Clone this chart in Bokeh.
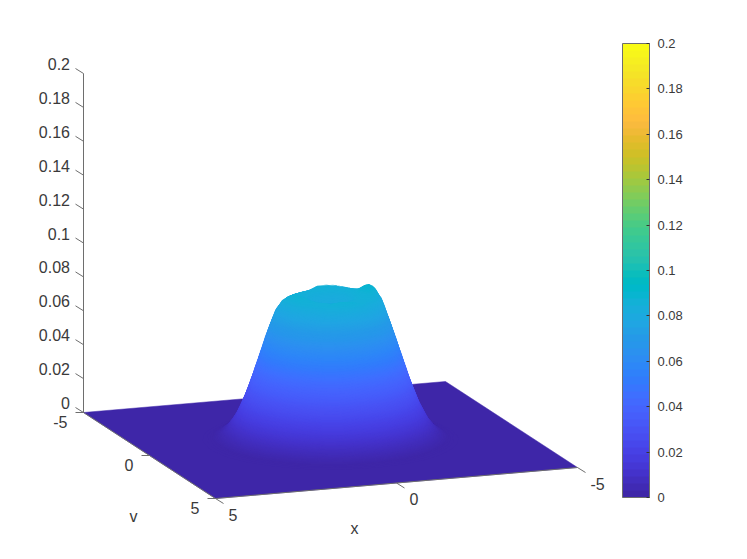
import numpy as np
from bokeh.plotting import figure
from bokeh.plotting.contour import contour_data
from bokeh.models import ColorBar, LinearColorMapper, FixedTicker, NumeralTickFormatter, Range1d
from bokeh.core.properties import value
from bokeh.embed import file_html
from bokeh.resources import INLINE

# ---- data ----
grid_step = 0.25
# One quadrant of the surface: rows y = 0, .25, ... 3.5; columns x = 0, .25, ... 3.5
quadrant = [
 [.0810,.0815,.0830,.0855,.0885,.0840,.0765,.0570,.0400,.0245,.0130,.0055,.0020,.0005,0],
 [.0815,.0820,.0832,.0855,.0875,.0830,.0720,.0560,.0390,.0238,.0125,.0052,.0019,.0005,0],
 [.0830,.0832,.0845,.0855,.0855,.0815,.0680,.0520,.0360,.0220,.0115,.0048,.0016,.0004,0],
 [.0850,.0845,.0845,.0845,.0825,.0755,.0620,.0465,.0315,.0185,.0095,.0038,.0013,.0003,0],
 [.0865,.0860,.0845,.0815,.0765,.0670,.0535,.0390,.0255,.0145,.0072,.0028,.0008,.0002,0],
 [.0830,.0820,.0805,.0755,.0670,.0560,.0432,.0305,.0185,.0105,.0045,.0018,.0005,.0001,0],
 [.0730,.0720,.0680,.0620,.0535,.0432,.0322,.0215,.0130,.0068,.0030,.0011,.0003,0,0],
 [.0570,.0560,.0520,.0465,.0390,.0305,.0215,.0140,.0082,.0038,.0016,.0005,.0001,0,0],
 [.0400,.0390,.0360,.0315,.0255,.0185,.0130,.0082,.0042,.0019,.0007,.0002,0,0,0],
 [.0245,.0238,.0220,.0185,.0145,.0105,.0068,.0038,.0019,.0008,.0002,0,0,0,0],
 [.0130,.0125,.0115,.0095,.0072,.0045,.0030,.0016,.0007,.0002,0,0,0,0,0],
 [.0055,.0052,.0048,.0038,.0028,.0018,.0011,.0005,.0002,0,0,0,0,0,0],
 [.0020,.0019,.0016,.0013,.0008,.0005,.0003,.0001,0,0,0,0,0,0,0],
 [.0005,.0005,.0004,.0003,.0002,.0001,0,0,0,0,0,0,0,0,0],
 [0,0,0,0,0,0,0,0,0,0,0,0,0,0,0],
]
# Points of the plateau's back rim where the picture departs from the mirrored quadrant
rim_x = [0.5, 0.25, 0, -0.25, -0.5, -0.75, -1.0,
         -1.25, -1.25, -1.25, -1.0, -1.0, -1.0, -0.75, -0.75, -0.75, -1.5, -1.5,
         1.0, 1.0, 1.0, 1.0, 1.0, 0.75, 1.25, 1.25, 0.75, 1.5]
rim_y = [-1.0, -1.0, -1.0, -1.0, -1.0, -1.0, -1.0,
         -0.5, -0.25, 0, -0.5, -0.25, 0, -0.5, -0.25, 0, -0.25, -0.5,
         0, -0.25, -0.5, -0.75, -1.0, -1.0, -0.5, -0.25, -0.75, -0.25]
rim_z = [.0829, .0836, .0861, .0862, .0855, .0841, .0825,
         .0875, .0876, .0871, .0850, .0880, .0902, .0855, .0855, .0860, .0800, .0720,
         .0877, .0858, .0840, .0810, .0778, .0815, .0792, .0835, .0834, .0745]
x_limits = [-5, 5]
y_limits = [-5, 5]
z_limits = [0, 0.2]
x_ticks = [5, 0, -5]
x_tick_labels = ["5", "0", "-5"]
y_ticks = [-5, 0, 5]
y_tick_labels = ["-5", "0", "5"]
z_ticks = [0, 0.02, 0.04, 0.06, 0.08, 0.1, 0.12, 0.14, 0.16, 0.18, 0.2]
z_tick_labels = ["0", "0.02", "0.04", "0.06", "0.08", "0.1", "0.12", "0.14", "0.16", "0.18", "0.2"]
parula = """3e26a8 402aB4 422EBF 4432CB 4537D5 463CDE 4741E5 4747EB 484DF0 4852F4 4758F8 465EFB 4563FD
4269FE 3E6FFF 3875FE 327BFC 2F81FA 2D87F7 2D8CF3 2B91EF 2796EB 2599E8 239FE5 20A5E3 1CA9DF 18ADDB 12B1D6
08B5D0 01B8CA 02BAC3 0BBDBC 18BFB6 24C1AE 2CC3A7 31C69F 37C897 3FCA8E 4ACB84 57CC7A 64CC6F 72CC64 81CC59
8FCA4E 9DC943 ABC739 B9C431 C5C22A D1BF27 DCBD29 E6BB2D F0BA36 F8BA3D FEBE3C FEC338 FEC934 FCCF30 F9D62D
F7DC2A F5E327 F5E924 F6EF20 F7F51B F9FB15""".split()
palette = ["#" + c.lower() for c in parula]

# ---- view of the 3-D box, in page pixels ----
def project(x, y, z):
    x, y, z = np.asarray(x, float), np.asarray(y, float), np.asarray(z, float)
    return 330 - 36.2 * x + 13.2 * y, 439.5 + 3.1 * x + 8.6 * y - 1695 * z

AXIS = "#6e6e6e"
TEXT = "#3a3a3a"
FONT = value("Liberation Sans")

p = figure(width=731, height=543, output_backend="svg", toolbar_location=None,
           x_range=Range1d(0, 731), y_range=Range1d(543, 0), min_border=0,
           outline_line_color=None, x_axis_type=None, y_axis_type=None)
p.grid.visible = False

# floor of the surface
cx, cy = project([x_limits[0], x_limits[0], x_limits[1], x_limits[1]],
                 [y_limits[0], y_limits[1], y_limits[1], y_limits[0]], [0, 0, 0, 0])
p.patch(cx, cy, fill_color=palette[0], line_color=palette[0], line_width=0.5)

# axis lines
ax, ay = project([x_limits[1], x_limits[1], x_limits[0]], [y_limits[0], y_limits[1], y_limits[1]], [0, 0, 0])
p.line(ax, ay, line_color=AXIS, line_width=1)
zx, zy = project([x_limits[1], x_limits[1]], [y_limits[0], y_limits[0]], z_limits)
p.line(zx, zy, line_color=AXIS, line_width=1)

# surface: full grid mirrored from the quadrant, painted level by level from low to high
q = np.array(quadrant)
half = np.concatenate([q[:, :0:-1], q], axis=1)
full = np.concatenate([half[:0:-1, :], half], axis=0)
pad = int(round((x_limits[1] - 3.5) / grid_step))
Z = np.pad(full, pad)
xs1 = np.arange(Z.shape[1]) * grid_step + x_limits[0]
ys1 = np.arange(Z.shape[0]) * grid_step + y_limits[0]
for rx, ry, rz in zip(rim_x, rim_y, rim_z):
    Z[int(round((ry - y_limits[0]) / grid_step)), int(round((rx - x_limits[0]) / grid_step))] = rz
GX, GY = np.meshgrid(xs1, ys1)
PX, PY = project(GX, GY, Z)

rgb = np.array([[int(c[i:i + 2], 16) for i in (0, 2, 4)] for c in parula], float)
bin_h = z_limits[1] / len(palette)

def shade(level):
    pos = np.clip(level / bin_h - 0.5, 0, len(rgb) - 1)
    lo = int(pos)
    hi = min(lo + 1, len(rgb) - 1)
    c = rgb[lo] + (rgb[hi] - rgb[lo]) * (pos - lo)
    return "#%02x%02x%02x" % tuple(int(round(v)) for v in c)

levels = np.arange(0.0004, Z.max(), 0.0004)
poly_x, poly_y, poly_c = [], [], []
for lev in levels:
    cd = contour_data(PX, PY, Z, [float(lev), float(Z.max()) + 1], want_fill=True, want_line=False)
    poly_x.append(cd.fill_data.xs[0])
    poly_y.append(cd.fill_data.ys[0])
    poly_c.append(shade(float(lev)))
p.multi_polygons(xs=poly_x, ys=poly_y, fill_color=poly_c, line_color=None)

# ticks
n = len(z_ticks)
bx, by = project([x_limits[1]] * n, [y_limits[0]] * n, z_ticks)
p.segment(bx, by, bx - 8, by - 5, line_color=AXIS, line_width=1)
p.text(bx - 13.5, by - 9.5, text=z_tick_labels, text_font=FONT, text_font_size="16px",
       text_color=TEXT, text_align="right", text_baseline="middle")

bx, by = project([x_limits[1]] * 3, y_ticks, [0] * 3)
p.segment(bx, by, bx - 8, by, line_color=AXIS, line_width=1)
p.text(bx - 16, by + 9, text=y_tick_labels, text_font=FONT, text_font_size="16px",
       text_color=TEXT, text_align="right", text_baseline="middle")

bx, by = project(x_ticks, [y_limits[1]] * 3, [0] * 3)
p.segment(bx, by, bx + 8, by + 5, line_color=AXIS, line_width=1)
p.text(bx + 13, by + 16, text=x_tick_labels, text_font=FONT, text_font_size="16px",
       text_color=TEXT, text_align="left", text_baseline="middle")

# axis titles
p.text([354], [528], text=["x"], text_font=FONT, text_font_size="16px", text_color=TEXT,
       text_align="center", text_baseline="middle")
p.text([133], [516], text=["v"], text_font=FONT, text_font_size="16px", text_color=TEXT,
       text_align="center", text_baseline="middle")

# colour bar
mapper = LinearColorMapper(palette=palette, low=z_limits[0], high=z_limits[1])
cb = ColorBar(color_mapper=mapper, ticker=FixedTicker(ticks=z_ticks),
              formatter=NumeralTickFormatter(format="0.[00]"),
              width=27, height=454, padding=0, margin=0, label_standoff=8,
              location=(622, 46), border_line_color=None, background_fill_color=None,
              bar_line_color=AXIS, bar_line_width=1,
              major_tick_in=3, major_tick_out=0, major_tick_line_color="#333333", major_tick_line_width=1,
              minor_tick_line_color=None,
              major_label_text_font="Liberation Sans", major_label_text_font_size="13px",
              major_label_text_color=TEXT)
p.add_layout(cb, "center")

open("out.html", "w").write(file_html(p, INLINE))
